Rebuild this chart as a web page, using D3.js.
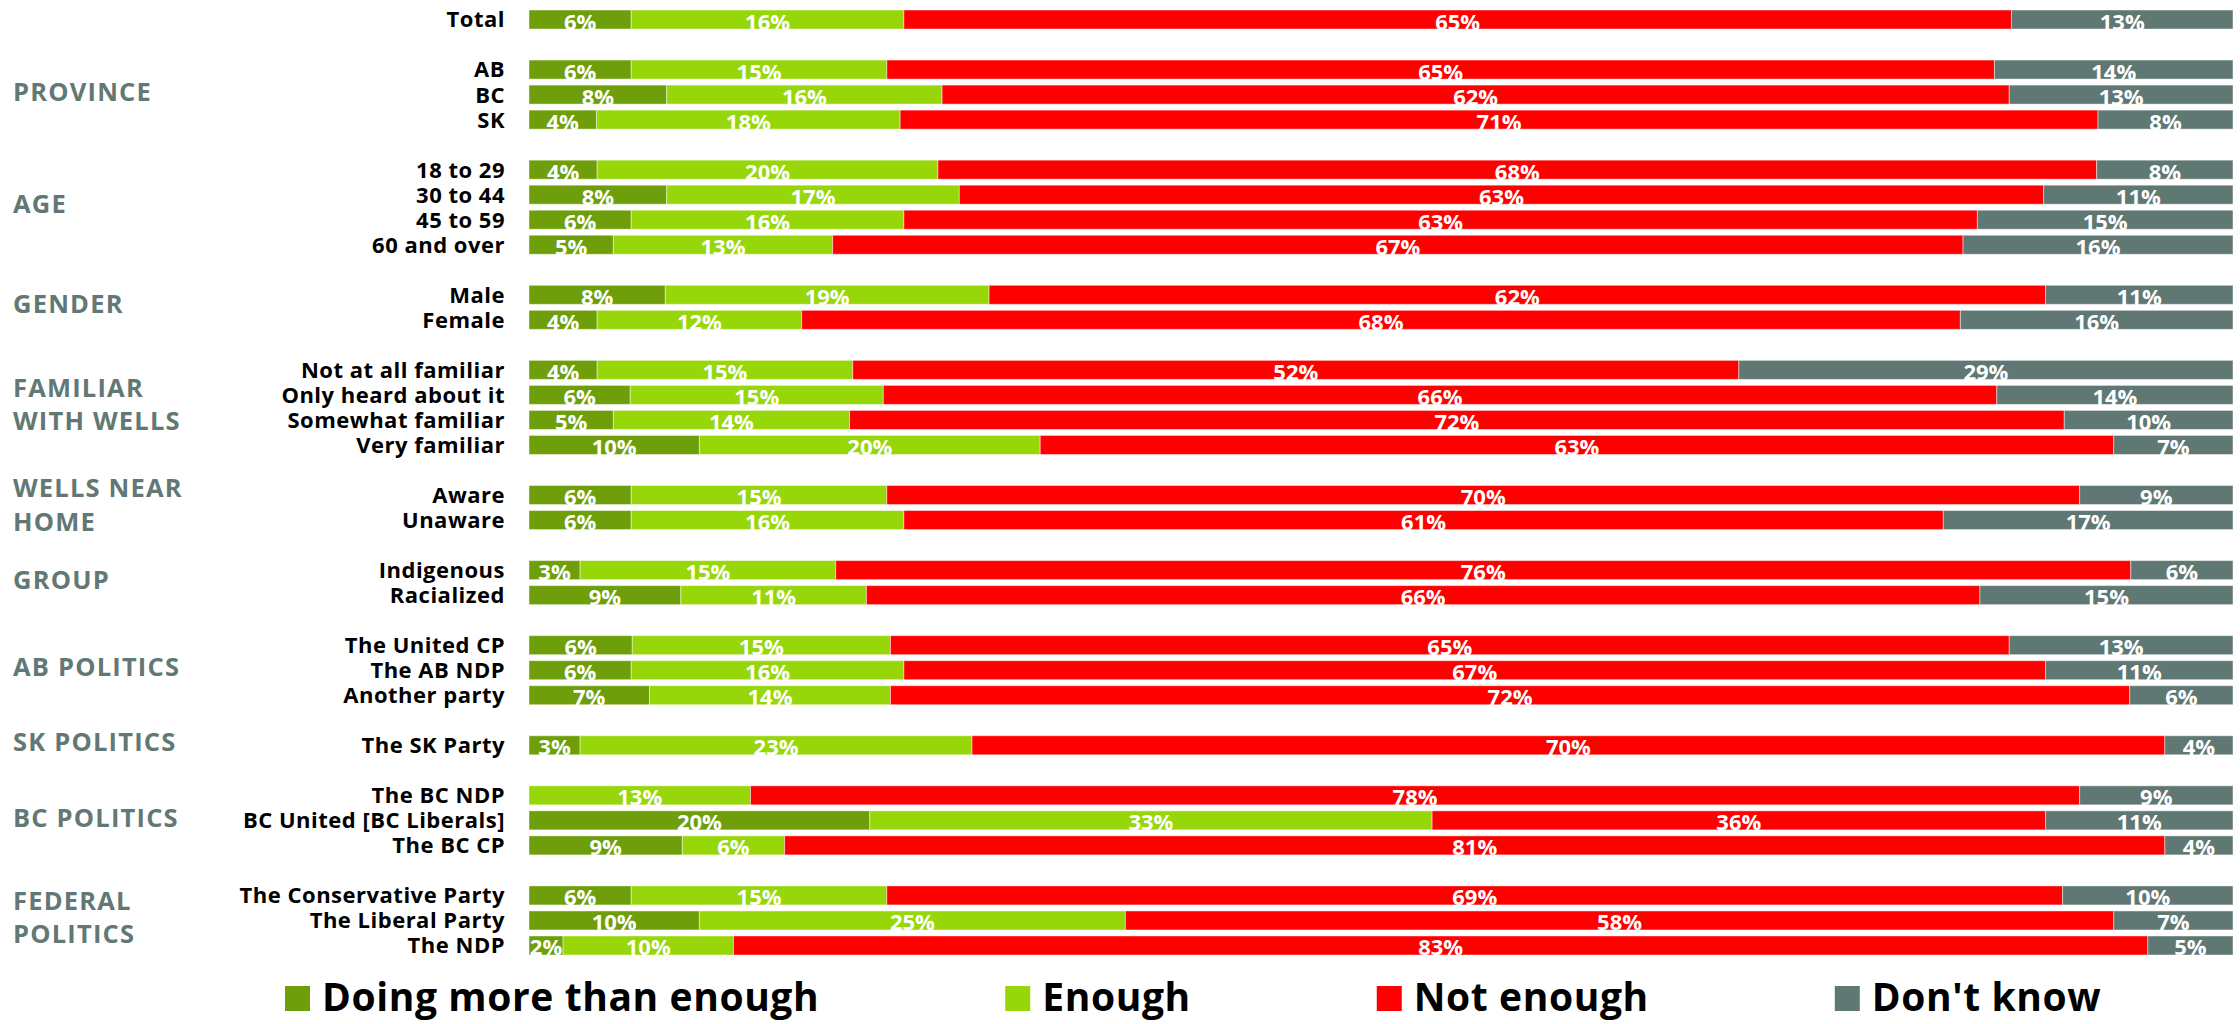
<!DOCTYPE html>
<html>
<head>
<meta charset="utf-8">
<script src="https://cdn.jsdelivr.net/npm/d3@7"></script>
<style>
  html, body { margin: 0; padding: 0; background: #ffffff; }
  svg { display: block; }
</style>
</head>
<body>
<svg id="chart" width="2240" height="1024"></svg>
<script>
// ---------------- DATA ----------------
const categories = [
  "Total",
  "AB", "BC", "SK",
  "18 to 29", "30 to 44", "45 to 59", "60 and over",
  "Male", "Female",
  "Not at all familiar", "Only heard about it", "Somewhat familiar", "Very familiar",
  "Aware", "Unaware",
  "Indigenous", "Racialized",
  "The United CP", "The AB NDP", "Another party",
  "The SK Party",
  "The BC NDP", "BC United [BC Liberals]", "The BC CP",
  "The Conservative Party", "The Liberal Party", "The NDP"
];
const doingMore = [6, 6, 8, 4, 4, 8, 6, 5, 8, 4, 4, 6, 5, 10, 6, 6, 3, 9, 6, 6, 7, 3, 0, 20, 9, 6, 10, 2];
const enough    = [16, 15, 16, 18, 20, 17, 16, 13, 19, 12, 15, 15, 14, 20, 15, 16, 15, 11, 15, 16, 14, 23, 13, 33, 6, 15, 25, 10];
const notEnough = [65, 65, 62, 71, 68, 63, 63, 67, 62, 68, 52, 66, 72, 63, 70, 61, 76, 66, 65, 67, 72, 70, 78, 36, 81, 69, 58, 83];
const dontKnow  = [13, 14, 13, 8, 8, 11, 15, 16, 11, 16, 29, 14, 10, 7, 9, 17, 6, 15, 13, 11, 6, 4, 9, 11, 4, 10, 7, 5];

const groupNames = ["", "PROVINCE", "AGE", "GENDER", "FAMILIAR\nWITH WELLS", "WELLS NEAR\nHOME",
                    "GROUP", "AB POLITICS", "SK POLITICS", "BC POLITICS", "FEDERAL\nPOLITICS"];
const groupSizes = [1, 3, 4, 2, 4, 2, 2, 3, 1, 3, 3];

const seriesNames = ["Doing more than enough", "Enough", "Not enough", "Don't know"];
const seriesKeys = ["dm", "en", "ne", "dk"];
const seriesColors = ["#6E9F0B", "#97D70A", "#FF0000", "#607873"];

// ---------------- LAYOUT ----------------
const FONT = "'Open Sans', Lato, 'DejaVu Sans', sans-serif";
const svg = d3.select("#chart");

const table = categories.map((c, i) => ({
  cat: c, dm: doingMore[i], en: enough[i], ne: notEnough[i], dk: dontKnow[i]
}));

// rows with spacer rows between groups
const rowKeys = [];
const groupRows = [];
let ci = 0;
groupSizes.forEach((n, g) => {
  const members = [];
  for (let k = 0; k < n; k++) { rowKeys.push(categories[ci]); members.push(categories[ci]); ci++; }
  groupRows.push(members);
  if (g < groupSizes.length - 1) rowKeys.push("__gap" + g);
});

const y = d3.scaleBand().domain(rowKeys).range([4, 961]).padding(0.24);
const x = d3.scaleLinear().domain([0, 1]).range([529, 2233]);
const color = d3.scaleOrdinal().domain(seriesKeys).range(seriesColors);

const stacked = d3.stack().keys(seriesKeys).offset(d3.stackOffsetExpand)(table);

// bars
const layers = svg.append("g").selectAll("g")
  .data(stacked).join("g")
  .attr("fill", d => color(d.key));

layers.selectAll("rect")
  .data(d => d.map(p => ({ p, key: d.key })))
  .join("rect")
  .attr("x", d => x(d.p[0]))
  .attr("y", d => y(d.p.data.cat))
  .attr("width", d => Math.max(0, x(d.p[1]) - x(d.p[0])))
  .attr("height", y.bandwidth())
  .attr("stroke", "rgba(255,255,255,0.45)")
  .attr("stroke-width", 1);

// value labels
const labelG = svg.append("g")
  .attr("font-family", FONT).attr("font-weight", 700)
  .attr("font-size", 22).attr("fill", "#ffffff").attr("text-anchor", "middle");

stacked.forEach(layer => {
  labelG.selectAll(null)
    .data(layer.filter(p => p.data[layer.key] > 0))
    .join("text")
    .attr("x", p => (x(p[0]) + x(p[1])) / 2)
    .attr("y", p => y(p.data.cat) + y.bandwidth() + 0.5)
    .text(p => p.data[layer.key] + "%");
});

// category labels
svg.append("g")
  .attr("font-family", FONT).attr("font-weight", 700)
  .attr("font-size", 22).attr("letter-spacing", 0.5)
  .attr("fill", "#000000").attr("text-anchor", "end")
  .selectAll("text").data(categories).join("text")
  .attr("x", 505)
  .attr("y", c => y(c) + y.bandwidth() / 2)
  .attr("dy", "0.36em")
  .text(c => c);

// group labels
const lineH = 33.7;
const gG = svg.append("g")
  .attr("font-family", FONT).attr("font-weight", 700)
  .attr("font-size", 25.5).attr("letter-spacing", 1.2).attr("fill", "#627874");
groupNames.forEach((name, g) => {
  if (!name) return;
  const rows = groupRows[g];
  const top = y(rows[0]), bot = y(rows[rows.length - 1]) + y.bandwidth();
  const mid = (top + bot) / 2 - 3;
  const lines = name.split("\n");
  const t = gG.append("text").attr("x", 13);
  lines.forEach((ln, i) => {
    t.append("tspan")
      .attr("x", 13)
      .attr("y", mid + (i - (lines.length - 1) / 2) * lineH)
      .attr("dy", "0.36em")
      .text(ln);
  });
});

// legend (flow layout)
const legG = svg.append("g").attr("font-family", FONT).attr("font-weight", 700)
  .attr("font-size", 39).attr("letter-spacing", 0.6);
let lx = 285;
const sq = 25, legTop = 986;
seriesNames.forEach((name, i) => {
  legG.append("rect").attr("x", lx).attr("y", legTop).attr("width", sq).attr("height", sq)
    .attr("fill", seriesColors[i]);
  const t = legG.append("text").attr("x", lx + sq + 12).attr("y", legTop + sq).attr("fill", "#000").text(name);
  const w = t.node().getComputedTextLength();
  lx += sq + 12 + w + 186;
});
</script>
</body>
</html>
